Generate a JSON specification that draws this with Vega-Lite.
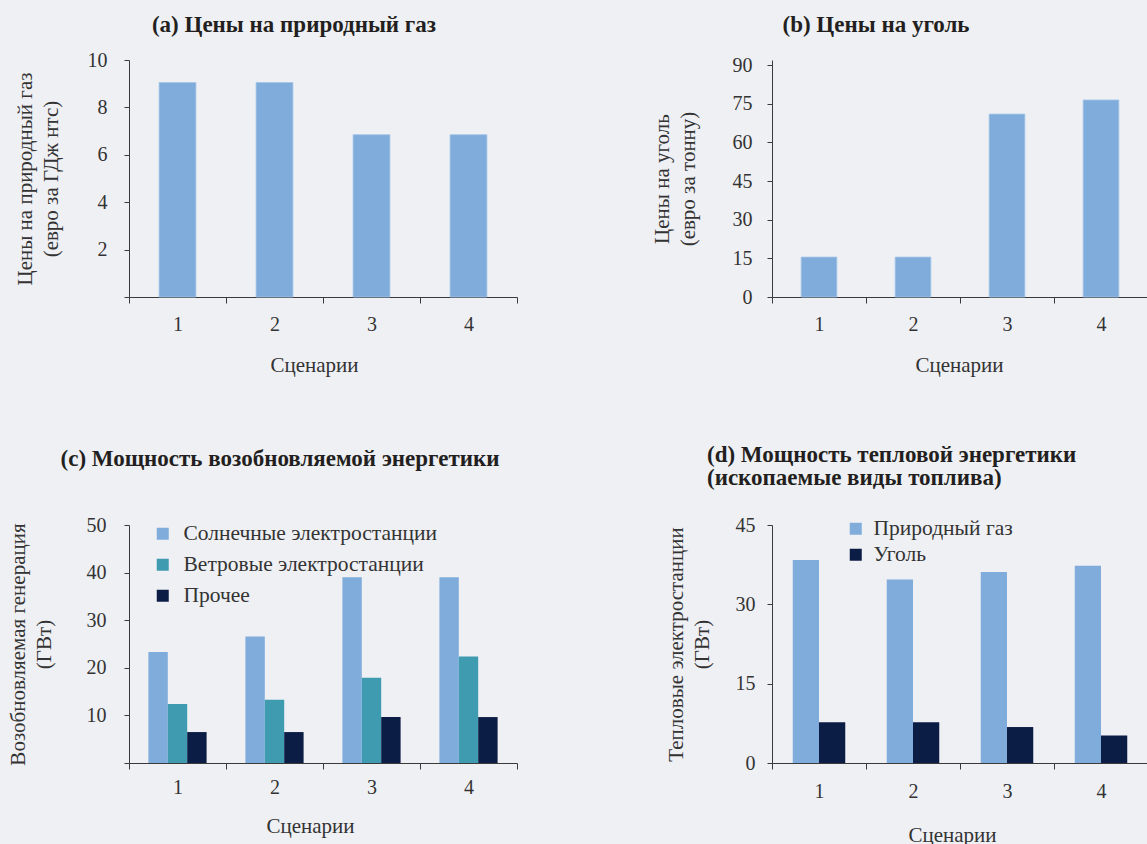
{
  "$schema": "https://vega.github.io/schema/vega-lite/v6.json",
  "background": "#eff0f4",
  "padding": {"top": 14, "left": 6, "right": 1, "bottom": 12},
  "datasets": {
    "gas": [
      {"scenario": "1", "value": 9.05},
      {"scenario": "2", "value": 9.05},
      {"scenario": "3", "value": 6.85},
      {"scenario": "4", "value": 6.85}
    ],
    "coal": [
      {"scenario": "1", "value": 15.5},
      {"scenario": "2", "value": 15.5},
      {"scenario": "3", "value": 71.0},
      {"scenario": "4", "value": 76.5}
    ],
    "renew": [
      {"scenario": "1", "type": "Солнечные электростанции", "value": 23.3},
      {"scenario": "1", "type": "Ветровые электростанции", "value": 12.4},
      {"scenario": "1", "type": "Прочее", "value": 6.5},
      {"scenario": "2", "type": "Солнечные электростанции", "value": 26.6},
      {"scenario": "2", "type": "Ветровые электростанции", "value": 13.3},
      {"scenario": "2", "type": "Прочее", "value": 6.5},
      {"scenario": "3", "type": "Солнечные электростанции", "value": 39.0},
      {"scenario": "3", "type": "Ветровые электростанции", "value": 17.9},
      {"scenario": "3", "type": "Прочее", "value": 9.65},
      {"scenario": "4", "type": "Солнечные электростанции", "value": 39.0},
      {"scenario": "4", "type": "Ветровые электростанции", "value": 22.4},
      {"scenario": "4", "type": "Прочее", "value": 9.65}
    ],
    "thermal": [
      {"scenario": "1", "type": "Природный газ", "value": 38.4},
      {"scenario": "1", "type": "Уголь", "value": 7.7},
      {"scenario": "2", "type": "Природный газ", "value": 34.7},
      {"scenario": "2", "type": "Уголь", "value": 7.7},
      {"scenario": "3", "type": "Природный газ", "value": 36.1},
      {"scenario": "3", "type": "Уголь", "value": 6.8},
      {"scenario": "4", "type": "Природный газ", "value": 37.3},
      {"scenario": "4", "type": "Уголь", "value": 5.2}
    ]
  },
  "columns": 2,
  "spacing": {"column": 133, "row": 69},
  "resolve": {
    "scale": {"x": "independent", "y": "independent", "xOffset": "independent", "color": "independent"},
    "legend": {"color": "independent"},
    "axis": {"x": "independent", "y": "independent"}
  },
  "concat": [
    {
      "width": 388,
      "height": 237,
      "title": {"text": "(a) Цены на природный газ", "dx": -29, "offset": 13},
      "data": {"name": "gas"},
      "mark": {"type": "bar", "width": {"band": 0.38}, "color": "#80acdc", "stroke": "#a6c6e8", "strokeWidth": 0.8},
      "encoding": {
        "x": {"field": "scenario", "type": "nominal", "scale": {"paddingInner": 0, "paddingOuter": 0},
              "axis": {"title": "Сценарии", "labelAngle": 0, "tickBand": "extent", "labelPadding": 11, "titlePadding": 20, "titleX": 185}},
        "y": {"field": "value", "type": "quantitative", "scale": {"domain": [0, 10], "nice": false},
              "axis": {"title": ["Цены на природный газ", "(евро за ГДж нтс)"], "values": [0, 2, 4, 6, 8, 10],
                       "labelExpr": "datum.value == 0 ? '' : datum.label", "labelPadding": 17, "titlePadding": 26}}
      }
    },
    {
      "width": 376,
      "height": 237,
      "title": {"text": "(b) Цены на уголь", "dx": -84, "offset": 18},
      "data": {"name": "coal"},
      "mark": {"type": "bar", "width": {"band": 0.38}, "color": "#80acdc", "stroke": "#a6c6e8", "strokeWidth": 0.8},
      "encoding": {
        "x": {"field": "scenario", "type": "nominal", "scale": {"paddingInner": 0, "paddingOuter": 0},
              "axis": {"title": "Сценарии", "labelAngle": 0, "tickBand": "extent", "labelPadding": 11, "titlePadding": 20, "titleX": 187}},
        "y": {"field": "value", "type": "quantitative", "scale": {"domain": [0, 92], "nice": false},
              "axis": {"title": ["Цены на уголь", "(евро за тонну)"], "values": [0, 15, 30, 45, 60, 75, 90], "labelPadding": 15, "titlePadding": 34}}
      }
    },
    {
      "width": 388,
      "height": 238,
      "title": {"text": "(c) Мощность возобновляемой энергетики", "dx": -43, "offset": 44},
      "data": {"name": "renew"},
      "mark": {"type": "bar"},
      "encoding": {
        "x": {"field": "scenario", "type": "nominal", "scale": {"paddingInner": 0, "paddingOuter": 0},
              "axis": {"title": "Сценарии", "labelAngle": 0, "tickBand": "extent", "labelPadding": 8, "titlePadding": 18, "titleX": 181}},
        "xOffset": {"field": "type", "type": "nominal", "sort": ["Солнечные электростанции", "Ветровые электростанции", "Прочее"],
                    "scale": {"paddingInner": 0, "paddingOuter": 1.05}},
        "y": {"field": "value", "type": "quantitative", "scale": {"domain": [0, 50], "nice": false},
              "axis": {"title": ["Возобновляемая генерация", "(ГВт)"], "values": [0, 10, 20, 30, 40, 50],
                       "labelExpr": "datum.value == 0 ? '' : datum.label", "labelPadding": 18, "titlePadding": 32}},
        "color": {"field": "type", "type": "nominal",
                  "scale": {"domain": ["Солнечные электростанции", "Ветровые электростанции", "Прочее"], "range": ["#80acdc", "#3e9bb0", "#0b1c45"]},
                  "legend": {"orient": "none", "legendX": 23, "legendY": -2, "title": null, "symbolType": "square", "symbolSize": 144,
                             "labelFontSize": 21.5, "labelFont": "Liberation Serif", "labelColor": "#333333", "labelLimit": 0,
                             "rowPadding": 8, "symbolStrokeWidth": 0, "labelOffset": 10}}
      }
    },
    {
      "width": 376,
      "height": 238,
      "title": {"text": ["(d) Мощность тепловой энергетики", "(ископаемые виды топлива)"], "anchor": "start", "dx": 42, "offset": 25, "lineHeight": 23},
      "data": {"name": "thermal"},
      "mark": {"type": "bar"},
      "encoding": {
        "x": {"field": "scenario", "type": "nominal", "scale": {"paddingInner": 0, "paddingOuter": 0},
              "axis": {"title": "Сценарии", "labelAngle": 0, "tickBand": "extent", "labelPadding": 12, "titlePadding": 23, "titleX": 180}},
        "xOffset": {"field": "type", "type": "nominal", "sort": ["Природный газ", "Уголь"],
                    "scale": {"paddingInner": 0, "paddingOuter": 0.79}},
        "y": {"field": "value", "type": "quantitative", "scale": {"domain": [0, 45], "nice": false},
              "axis": {"title": ["Тепловые электростанции", "(ГВт)"], "values": [0, 15, 30, 45], "labelPadding": 12, "titlePadding": 23}},
        "color": {"field": "type", "type": "nominal",
                  "scale": {"domain": ["Природный газ", "Уголь"], "range": ["#80acdc", "#0b1c45"]},
                  "legend": {"orient": "none", "legendX": 73, "legendY": -7, "title": null, "symbolType": "square", "symbolSize": 144,
                             "labelFontSize": 21.5, "labelFont": "Liberation Serif", "labelColor": "#333333", "labelLimit": 0,
                             "rowPadding": 3, "symbolStrokeWidth": 0, "labelOffset": 7}}
      }
    }
  ],
  "config": {
    "font": "Liberation Serif",
    "view": {"stroke": null},
    "title": {"fontSize": 23, "fontWeight": "bold", "color": "#231f20", "font": "Liberation Serif"},
    "axis": {
      "grid": false,
      "domainColor": "#3a3a3a",
      "tickColor": "#3a3a3a",
      "labelColor": "#333333",
      "titleColor": "#333333",
      "labelFontSize": 20,
      "titleFontSize": 21,
      "titleFontWeight": "normal",
      "titleLineHeight": 26,
      "tickSize": 5,
      "labelFont": "Liberation Serif",
      "titleFont": "Liberation Serif"
    },
    "axisX": {"tickSize": 6},
    "legend": {"labelColor": "#333333", "labelFont": "Liberation Serif"}
  }
}
